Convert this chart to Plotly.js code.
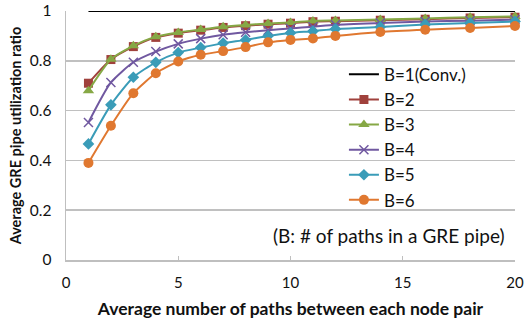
<!DOCTYPE html>
<html><head><meta charset="utf-8">
<script src="https://cdn.plot.ly/plotly-3.0.1.min.js"></script>
<style>html,body{margin:0;padding:0;background:#fff}#chart{width:524px;height:325px}</style>
</head><body><div id="chart"></div>
<script>
var xVals = [1,2,3,4,5,6,7,8,9,10,11,12,14,16,18,20];
var b1 = [1,1,1,1,1,1,1,1,1,1,1,1,1,1,1,1];
var b2 = [0.71,0.805,0.857,0.894,0.911,0.923,0.934,0.941,0.947,0.951,0.957,0.959,0.963,0.967,0.972,0.975];
var b3 = [0.68,0.806,0.860,0.897,0.914,0.926,0.937,0.944,0.950,0.954,0.960,0.962,0.966,0.970,0.975,0.978];
var b4 = [0.552,0.713,0.794,0.837,0.868,0.889,0.905,0.915,0.923,0.930,0.937,0.945,0.952,0.958,0.961,0.965];
var b5 = [0.466,0.623,0.734,0.794,0.833,0.853,0.871,0.884,0.900,0.912,0.919,0.928,0.936,0.946,0.952,0.958];
var b6 = [0.39,0.539,0.67,0.75,0.797,0.824,0.839,0.855,0.874,0.884,0.890,0.900,0.916,0.925,0.932,0.940];
var names = ['B=1(Conv.)','B=2','B=3','B=4','B=5','B=6'];
var colors = ['#000000','#a0413c','#86a845','#7058a0','#3a9cb8','#e07830'];
var symbols = [null,'square','triangle-up','x-thin','diamond','circle'];
var sizes = [0,9,10,9,9,10];
var series = [b1,b2,b3,b4,b5,b6];

var traces = series.map(function(s,i){
  var t = {x:xVals, y:s, name:names[i], type:'scatter',
    line:{color:colors[i], width:2, shape:'spline', smoothing:0.6},
    cliponaxis:false};
  if(i===0){ t.mode='lines'; }
  else {
    t.mode='lines+markers';
    t.marker={symbol:symbols[i], size:sizes[i], color:colors[i],
      line:{color:colors[i], width: i===3 ? 1.5 : 0}};
  }
  return t;
});

var F = 'Lato, "Open Sans", sans-serif';
var layout = {
  width:524, height:325,
  margin:{l:66, r:9, t:11, b:64.5},
  paper_bgcolor:'#fff', plot_bgcolor:'#fff',
  font:{family:F, size:15, color:'#111'},
  xaxis:{range:[0,20], tickvals:[0,5,10,15,20], showgrid:false, zeroline:false,
    showline:true, linecolor:'#bfbfbf', linewidth:1.5, ticks:'inside', ticklen:4, tickcolor:'#bfbfbf',
    tickfont:{size:15, family:F, color:'#111'}, ticklabelstandoff:8,
    title:{text:'<b>Average number of paths between each node pair</b>', font:{size:17.5, family:F, color:'#111'}, standoff:13}},
  yaxis:{range:[0,1], tickvals:[0,0.2,0.4,0.6,0.8,1], ticktext:['0','0.2','0.4','0.6','0.8','1'],
    showgrid:true, gridcolor:'#c0c0c0', gridwidth:1.5, zeroline:false,
    showline:true, linecolor:'#bfbfbf', linewidth:1.5, ticks:'',
    tickfont:{size:15.5, family:F, color:'#111'}, ticklabelstandoff:10,
    title:{text:'<b>Average GRE pipe utilization ratio</b>', font:{size:14.5, family:F, color:'#111'}, standoff:4}},
  legend:{x:0.619, xanchor:'left', y:0.816, yanchor:'top', bgcolor:'rgba(0,0,0,0)',
    font:{size:17, family:F, color:'#111'}, tracegroupgap:0, itemwidth:30},
  annotations:[{text:'(B: # of paths in a GRE pipe)', xref:'paper', yref:'paper', x:0.72, y:0.1, xanchor:'center', yanchor:'middle', showarrow:false, font:{size:19, family:F, color:'#111'}}],
  showlegend:true
};
Plotly.newPlot('chart', traces, layout, {displayModeBar:false, staticPlot:true});
</script></body></html>
